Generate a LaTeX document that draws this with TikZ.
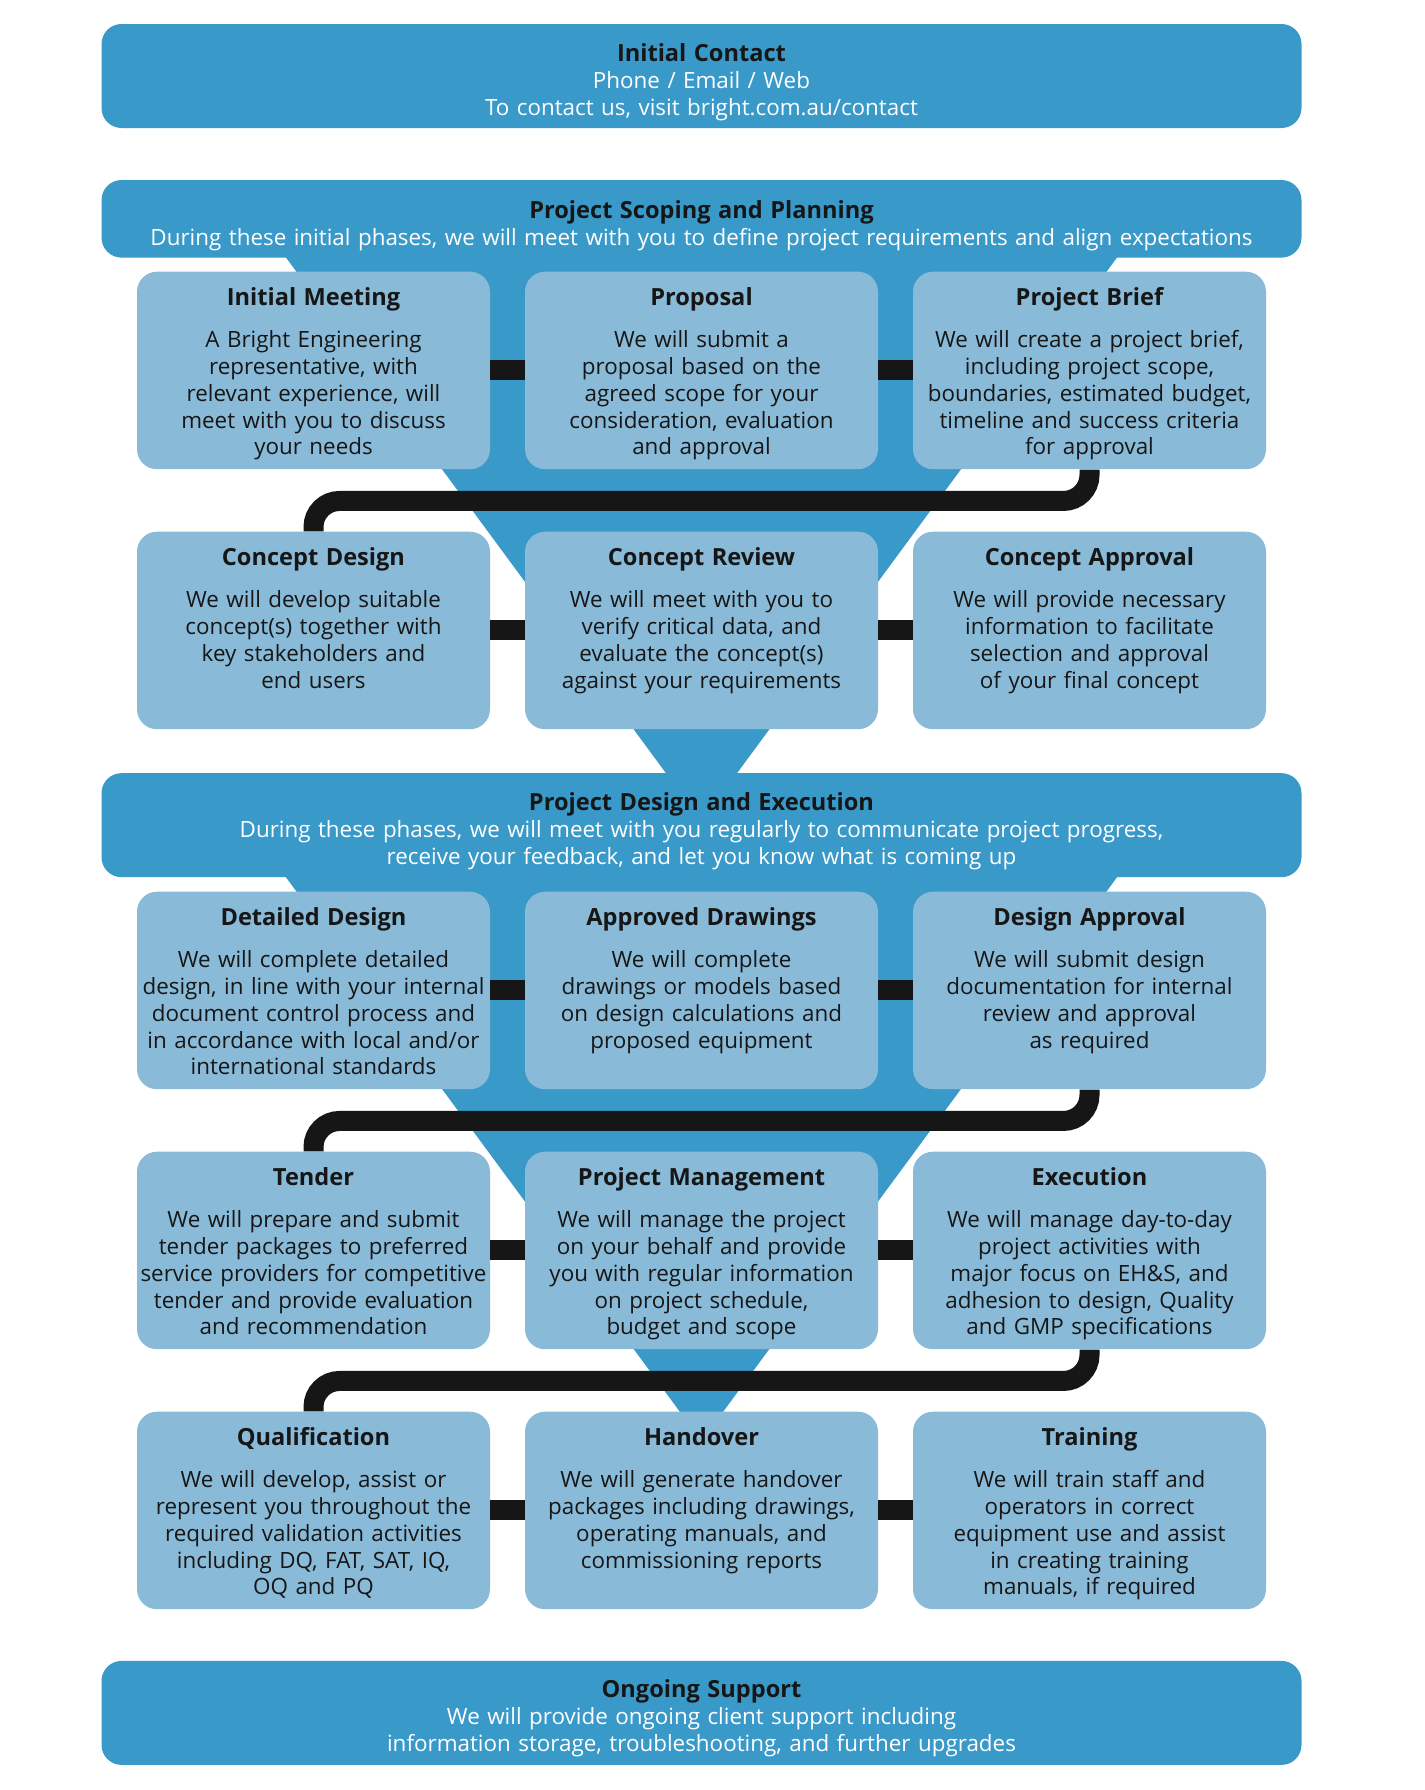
\documentclass[tikz,border=0pt]{standalone}
\usepackage{fontspec}
\setmainfont{Open Sans}
\definecolor{deepblue}{RGB}{57,154,202}
\definecolor{paleblue}{RGB}{137,186,216}
\definecolor{ink}{RGB}{22,22,22}
\newcommand{\steptitle}[1]{{\fontsize{11.8}{13.4}\selectfont\bfseries #1}}

\begin{document}
\begin{tikzpicture}[
    x=0.5pt, y=-0.5pt,
    header/.style={fill=deepblue, rounded corners=10pt, text width=600pt, align=center,
        inner sep=0pt, text=white, text height=18.5pt, text depth=33.5pt,
        font=\fontsize{11.2}{13.5}\selectfont},
    stepbox/.style={fill=paleblue, rounded corners=10pt, text width=176.5pt, align=center,
        inner sep=0pt, text=ink, text height=17pt, text depth=81.75pt,
        font=\fontsize{11.2}{13.4}\selectfont},
    funnel/.style={fill=deepblue},
    bar/.style={draw=ink, line width=10pt},
    snake/.style={bar, rounded corners=13pt}
]
    \path[use as bounding box, fill=white] (0,0) rectangle (1425,1790);

    % Funnels behind the steps
    \fill[funnel] (265.7,230) -- (1137.3,230) -- (701.5,821.4) -- cycle;
    \fill[funnel] (265.9,850) -- (1137.1,850) -- (701.5,1441.1) -- cycle;

    % Headers
    \node[header] (contact) at (701.5,76)
        {{\color{ink}\steptitle{Initial Contact}}\\Phone / Email / Web\\To contact us, visit bright.com.au/contact};
    \node[header, text height=19pt, text depth=19.8pt] (scoping) at (701.5,218.8)
        {{\color{ink}\steptitle{Project Scoping and Planning}}\\During these initial phases, we will meet with you to define project requirements and align expectations};
    \node[header] (execution) at (701.5,825.15)
        {{\color{ink}\steptitle{Project Design and Execution}}\\During these phases, we will meet with you regularly to communicate project progress,\\receive your feedback, and let you know what is coming up};
    \node[header] (support) at (701.5,1712.9)
        {{\color{ink}\steptitle{Ongoing Support}}\\We will provide ongoing client support including\\information storage, troubleshooting, and further upgrades};

    % Row 1
    \node[stepbox] (meeting) at (313.5,370.45)
        {\steptitle{Initial Meeting}\\[7.6pt]A Bright Engineering\\representative, with\\relevant experience, will\\meet with you to discuss\\your needs};
    \node[stepbox] (proposal) at (701.5,370.45)
        {\steptitle{Proposal}\\[7.6pt]We will submit a\\proposal based on the\\agreed scope for your\\consideration, evaluation\\and approval};
    \node[stepbox] (brief) at (1089.5,370.45)
        {\steptitle{Project Brief}\\[7.6pt]We will create a project brief,\\including project scope,\\boundaries, estimated budget,\\timeline and success criteria\\for approval};

    % Row 2
    \node[stepbox] (cdesign) at (313.5,630.45)
        {\steptitle{Concept Design}\\[7.6pt]We will develop suitable\\concept(s) together with\\key stakeholders and\\end users};
    \node[stepbox] (creview) at (701.5,630.45)
        {\steptitle{Concept Review}\\[7.6pt]We will meet with you to\\verify critical data, and\\evaluate the concept(s)\\against your requirements};
    \node[stepbox] (capproval) at (1089.5,630.45)
        {\steptitle{Concept Approval}\\[7.6pt]We will provide necessary\\information to facilitate\\selection and approval\\of your final concept};

    % Row 3
    \node[stepbox] (detailed) at (313.5,990.45)
        {\steptitle{Detailed Design}\\[7.6pt]We will complete detailed\\design, in line with your internal\\document control process and\\in accordance with local and/or\\international standards};
    \node[stepbox] (drawings) at (701.5,990.45)
        {\steptitle{Approved Drawings}\\[7.6pt]We will complete\\drawings or models based\\on design calculations and\\proposed equipment};
    \node[stepbox] (dapproval) at (1089.5,990.45)
        {\steptitle{Design Approval}\\[7.6pt]We will submit design\\documentation for internal\\review and approval\\as required};

    % Row 4
    \node[stepbox] (tender) at (313.5,1250.45)
        {\steptitle{Tender}\\[7.6pt]We will prepare and submit\\tender packages to preferred\\service providers for competitive\\tender and provide evaluation\\and recommendation};
    \node[stepbox] (management) at (701.5,1250.45)
        {\steptitle{Project Management}\\[7.6pt]We will manage the project\\on your behalf and provide\\you with regular information\\on project schedule,\\budget and scope};
    \node[stepbox] (exec) at (1089.5,1250.45)
        {\steptitle{Execution}\\[7.6pt]We will manage day-to-day\\project activities with\\major focus on EH\&S, and\\adhesion to design, Quality\\and GMP specifications};

    % Row 5
    \node[stepbox] (qualification) at (313.5,1510.45)
        {\steptitle{Qualification}\\[7.6pt]We will develop, assist or\\represent you throughout the\\required validation activities\\including DQ, FAT, SAT, IQ,\\OQ and PQ};
    \node[stepbox] (handover) at (701.5,1510.45)
        {\steptitle{Handover}\\[7.6pt]We will generate handover\\packages including drawings,\\operating manuals, and\\commissioning reports};
    \node[stepbox] (training) at (1089.5,1510.45)
        {\steptitle{Training}\\[7.6pt]We will train staff and\\operators in correct\\equipment use and assist\\in creating training\\manuals, if required};

    % Links along each row
    \draw[bar] (meeting.east) -- (proposal.west);
    \draw[bar] (proposal.east) -- (brief.west);
    \draw[bar] (cdesign.east) -- (creview.west);
    \draw[bar] (creview.east) -- (capproval.west);
    \draw[bar] (detailed.east) -- (drawings.west);
    \draw[bar] (drawings.east) -- (dapproval.west);
    \draw[bar] (tender.east) -- (management.west);
    \draw[bar] (management.east) -- (exec.west);
    \draw[bar] (qualification.east) -- (handover.west);
    \draw[bar] (handover.east) -- (training.west);

    % Links down to the next row
    \draw[snake] (brief.south) -- ++(0,31.35) -| (cdesign.north);
    \draw[snake] (dapproval.south) -- ++(0,31.35) -| (tender.north);
    \draw[snake] (exec.south) -- ++(0,31.35) -| (qualification.north);

\end{tikzpicture}
\end{document}
